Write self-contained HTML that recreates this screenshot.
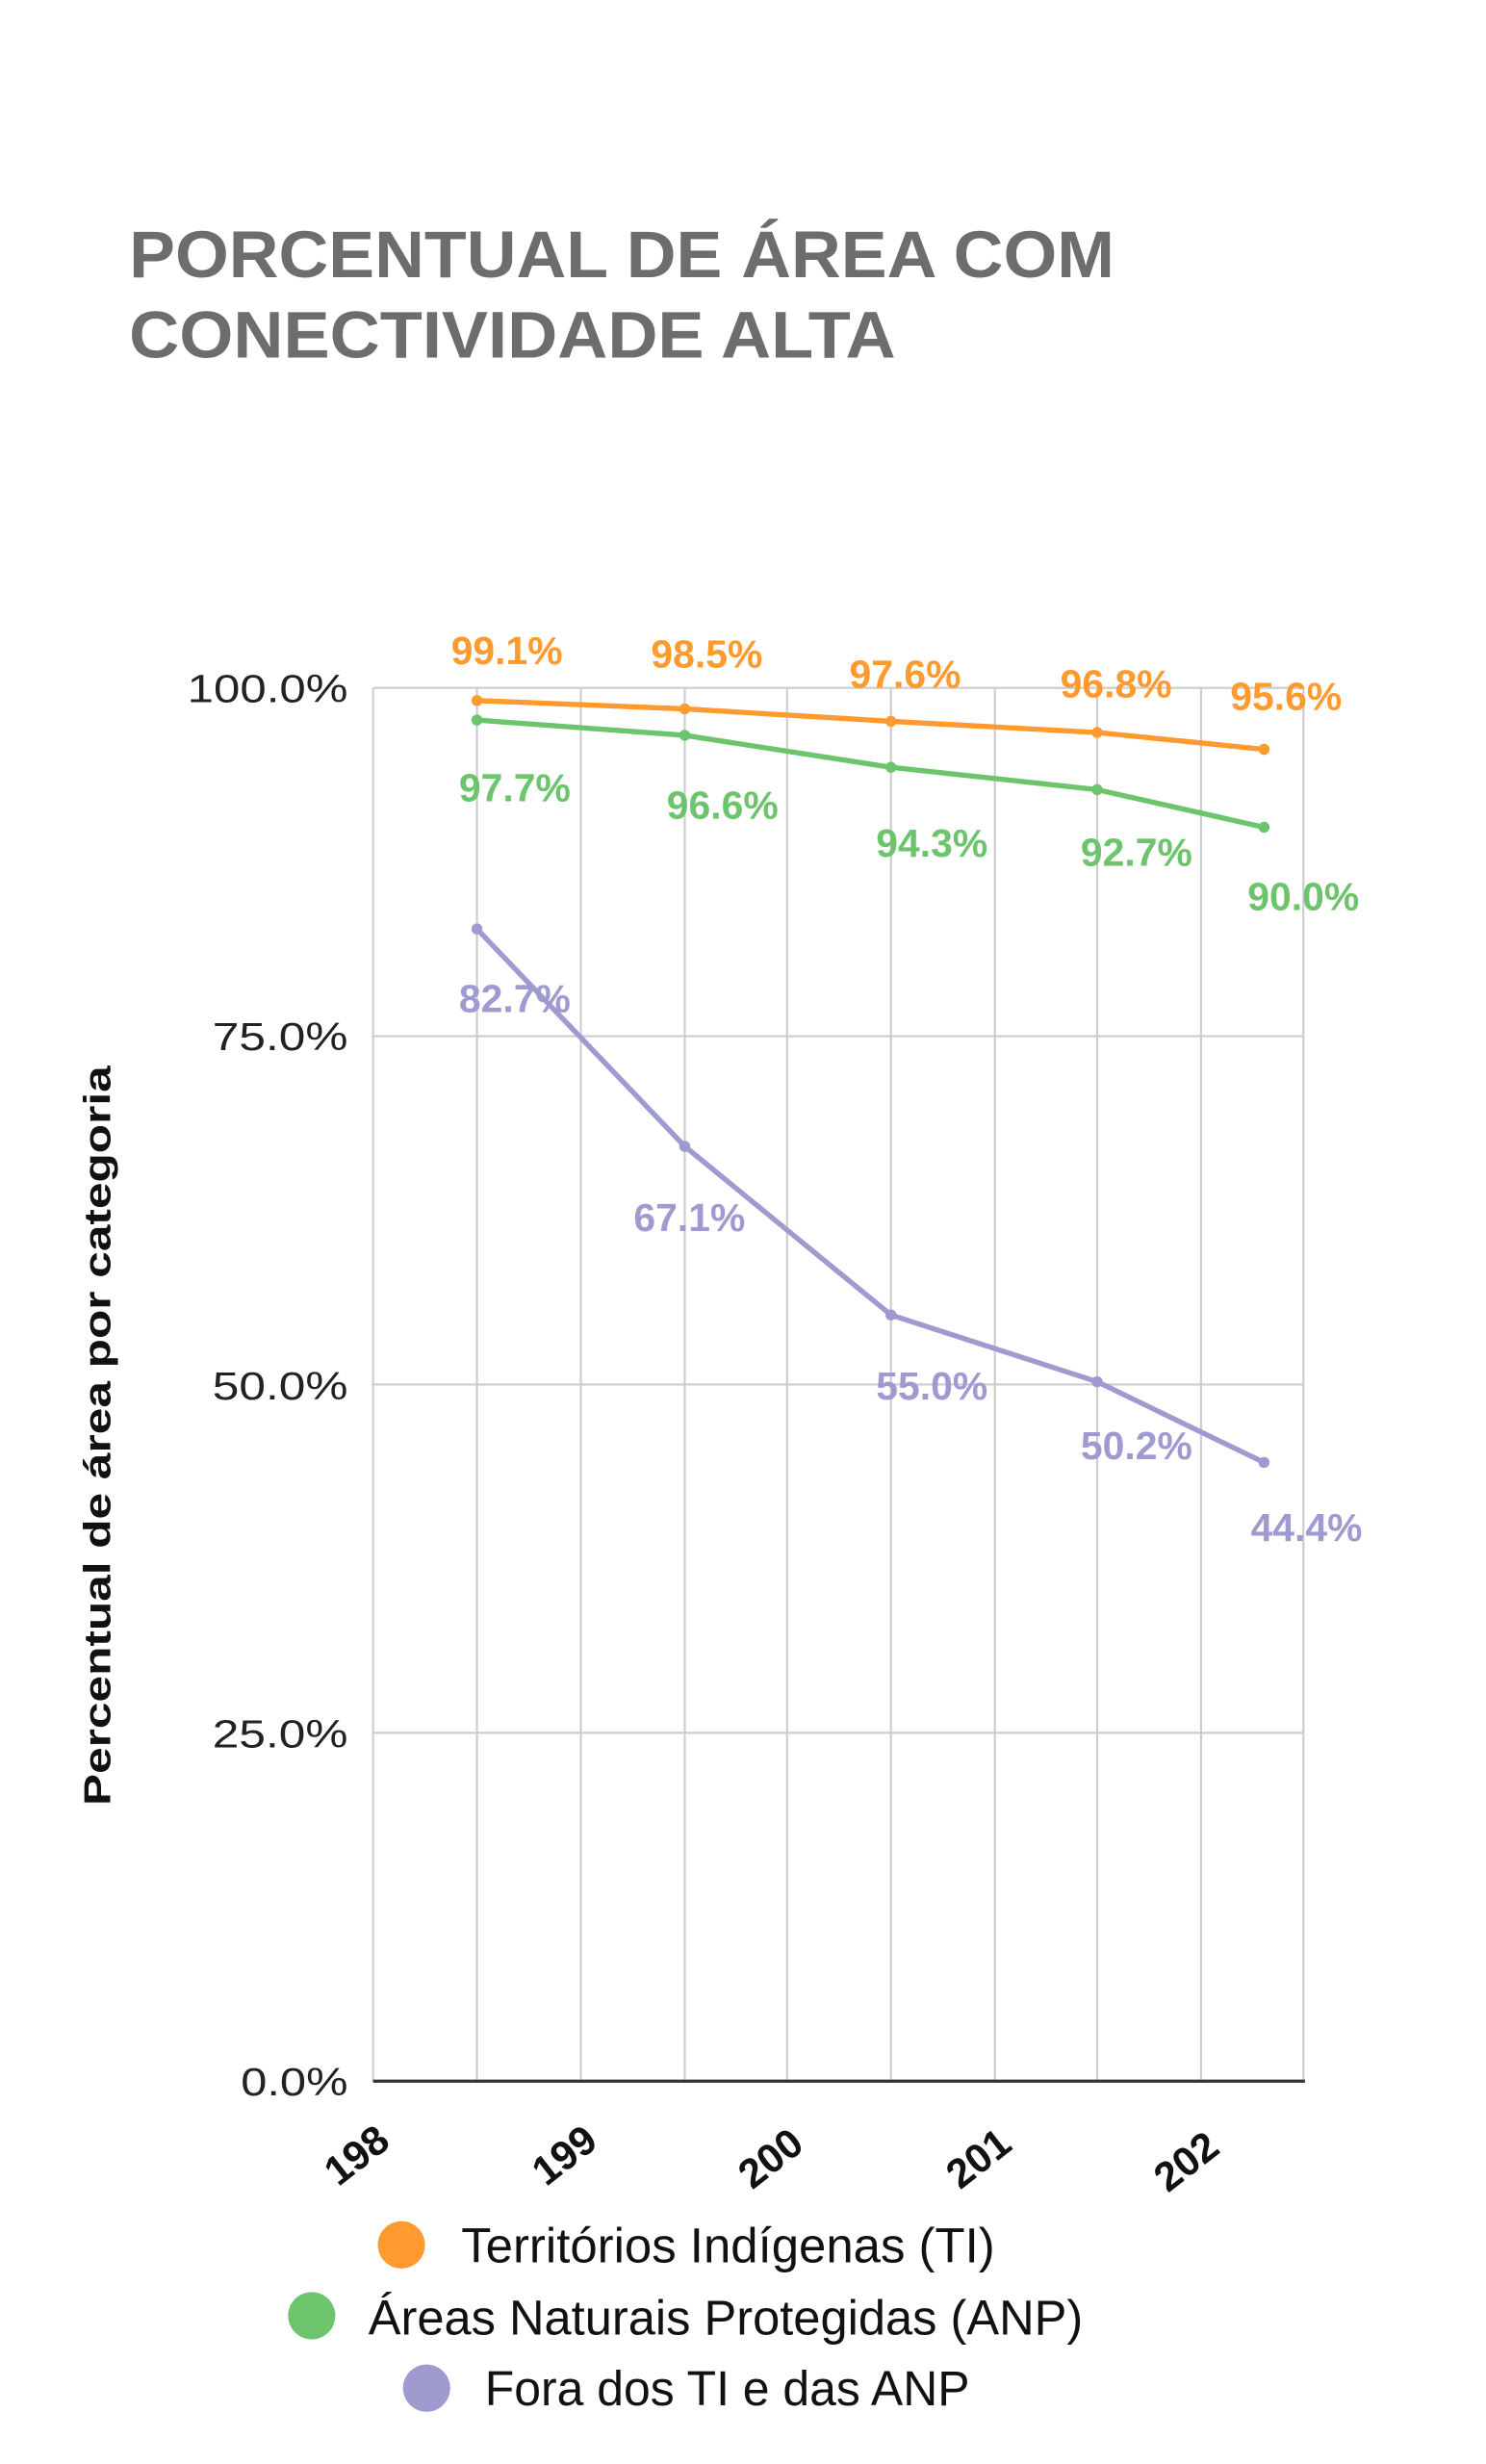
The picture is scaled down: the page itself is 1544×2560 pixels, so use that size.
<!DOCTYPE html>
<html><head><meta charset="utf-8"><style>
html,body{margin:0;padding:0;background:#fff;}
svg{display:block;}
</style></head><body>
<svg width="1544" height="2560" viewBox="0 0 944 1565.2" xmlns="http://www.w3.org/2000/svg" font-family="Liberation Sans, Arial, sans-serif">
<rect width="944" height="1565.2" fill="#fff"/>
<g font-weight="bold" fill="#6d6d6d" font-size="42">
<text x="82" y="176" textLength="626" lengthAdjust="spacingAndGlyphs">PORCENTUAL DE ÁREA COM</text>
<text x="82" y="227" textLength="487" lengthAdjust="spacingAndGlyphs">CONECTIVIDADE ALTA</text>
</g>
<g stroke="#cccccc" stroke-width="1.3">
<line x1="237" y1="437" x2="828" y2="437"/>
<line x1="237" y1="658.25" x2="828" y2="658.25"/>
<line x1="237" y1="879.5" x2="828" y2="879.5"/>
<line x1="237" y1="1100.75" x2="828" y2="1100.75"/>
<line x1="237" y1="437" x2="237" y2="1322"/>
<line x1="303" y1="437" x2="303" y2="1322"/>
<line x1="369" y1="437" x2="369" y2="1322"/>
<line x1="435" y1="437" x2="435" y2="1322"/>
<line x1="500" y1="437" x2="500" y2="1322"/>
<line x1="566" y1="437" x2="566" y2="1322"/>
<line x1="632" y1="437" x2="632" y2="1322"/>
<line x1="697" y1="437" x2="697" y2="1322"/>
<line x1="763" y1="437" x2="763" y2="1322"/>
<line x1="828" y1="437" x2="828" y2="1322"/>
</g>
<line x1="237" y1="1322" x2="829" y2="1322" stroke="#333" stroke-width="2"/>
<g font-size="25" fill="#222" text-anchor="end" lengthAdjust="spacingAndGlyphs">
<text x="221" y="446" textLength="102" lengthAdjust="spacingAndGlyphs">100.0%</text>
<text x="221" y="667" textLength="86" lengthAdjust="spacingAndGlyphs">75.0%</text>
<text x="221" y="889" textLength="86" lengthAdjust="spacingAndGlyphs">50.0%</text>
<text x="221" y="1110" textLength="86" lengthAdjust="spacingAndGlyphs">25.0%</text>
<text x="221" y="1331" textLength="68" lengthAdjust="spacingAndGlyphs">0.0%</text>
</g>
<text transform="translate(70,912) rotate(-90)" text-anchor="middle" font-size="24" font-weight="bold" fill="#111" textLength="470" lengthAdjust="spacingAndGlyphs">Percentual de área por categoria</text>
<g font-size="26" font-weight="bold" fill="#111" text-anchor="middle">
<text transform="translate(232,1376) rotate(-38)">198</text>
<text transform="translate(364,1376) rotate(-38)">199</text>
<text transform="translate(495,1378) rotate(-38)">200</text>
<text transform="translate(627,1378) rotate(-38)">201</text>
<text transform="translate(759,1380) rotate(-38)">202</text>
</g>
<g fill="none" stroke-width="3.3" stroke-linejoin="round">
<polyline stroke="#ff9a2e" points="303,445 435,450.3 566,458.2 697,465.3 803,476"/>
<polyline stroke="#6cc46c" points="303,457.4 435,467.1 566,487.4 697,501.6 803,525.5"/>
<polyline stroke="#9f9bd0" points="303,590.1 435,728.2 566,835.3 697,877.7 803,929"/>
</g>
<g fill="#ff9a2e"><circle cx="303" cy="445" r="3.5"/><circle cx="435" cy="450.3" r="3.5"/><circle cx="566" cy="458.2" r="3.5"/><circle cx="697" cy="465.3" r="3.5"/><circle cx="803" cy="476" r="3.5"/></g>
<g fill="#6cc46c"><circle cx="303" cy="457.4" r="3.5"/><circle cx="435" cy="467.1" r="3.5"/><circle cx="566" cy="487.4" r="3.5"/><circle cx="697" cy="501.6" r="3.5"/><circle cx="803" cy="525.5" r="3.5"/></g>
<g fill="#9f9bd0"><circle cx="303" cy="590.1" r="3.5"/><circle cx="435" cy="728.2" r="3.5"/><circle cx="566" cy="835.3" r="3.5"/><circle cx="697" cy="877.7" r="3.5"/><circle cx="803" cy="929" r="3.5"/></g>
<g font-size="25" font-weight="bold" text-anchor="middle">
<g fill="#ff9a2e">
<text x="322" y="422">99.1%</text><text x="449" y="424">98.5%</text><text x="575" y="437">97.6%</text><text x="709" y="443">96.8%</text><text x="817" y="451">95.6%</text>
</g>
<g fill="#6cc46c">
<text x="327" y="509">97.7%</text><text x="459" y="520">96.6%</text><text x="592" y="544">94.3%</text><text x="722" y="550">92.7%</text><text x="828" y="578">90.0%</text>
</g>
<g fill="#9f9bd0">
<text x="327" y="643">82.7%</text><text x="438" y="782">67.1%</text><text x="592" y="889">55.0%</text><text x="722" y="927">50.2%</text><text x="830" y="979">44.4%</text>
</g>
</g>
<circle cx="255" cy="1426" r="15" fill="#ff9a2e"/>
<circle cx="198" cy="1471" r="15" fill="#6cc46c"/>
<circle cx="271" cy="1517" r="15" fill="#9f9bd0"/>
<g font-size="31" fill="#111">
<text x="293" y="1437" textLength="339" lengthAdjust="spacingAndGlyphs">Territórios Indígenas (TI)</text>
<text x="234" y="1483" textLength="454" lengthAdjust="spacingAndGlyphs">Áreas Naturais Protegidas (ANP)</text>
<text x="308" y="1528" textLength="308" lengthAdjust="spacingAndGlyphs">Fora dos TI e das ANP</text>
</g>
</svg>
</body></html>
